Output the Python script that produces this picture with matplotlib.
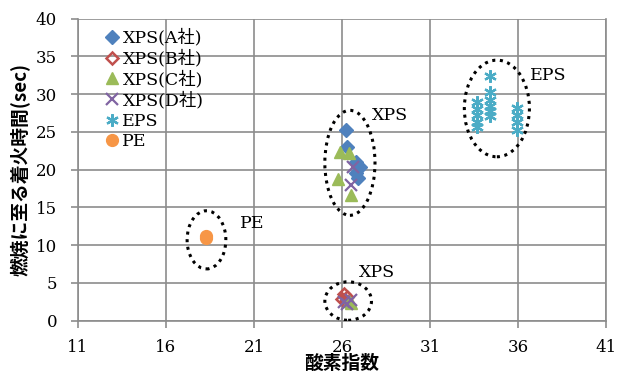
import matplotlib
matplotlib.use("Agg")
import matplotlib.pyplot as plt
from matplotlib.patches import Ellipse

# -----------------------------
# データ (酸素指数, 着火時間 sec)
# -----------------------------
xps_a_x = [26.2, 26.3, 26.8, 27.0, 26.8, 26.9]
xps_a_y = [25.3, 23.0, 21.0, 20.4, 19.6, 18.9]

xps_b_x = [26.1, 26.0, 26.2, 26.3]
xps_b_y = [3.5, 2.9, 2.6, 3.1]

xps_c_x = [25.9, 26.4, 25.8, 26.5, 26.5, 26.4]
xps_c_y = [22.4, 22.2, 18.8, 16.6, 2.3, 2.6]

xps_d_x = [26.6, 26.5, 26.1, 26.3, 26.5]
xps_d_y = [20.4, 17.9, 2.5, 2.2, 2.8]

eps_x = [33.65, 33.65, 33.65, 33.65, 33.65, 34.4, 34.4, 34.4, 34.4, 34.4, 34.4,
         35.95, 35.95, 35.95, 35.95]
eps_y = [29.0, 28.0, 27.2, 26.3, 25.7, 32.4, 30.3, 29.2, 28.4, 27.7, 27.1,
         28.2, 27.2, 26.3, 25.2]

pe_x = [18.3, 18.3]
pe_y = [10.9, 11.2]

series = [
    ("XPS(A社)", xps_a_x, xps_a_y),
    ("XPS(B社)", xps_b_x, xps_b_y),
    ("XPS(C社)", xps_c_x, xps_c_y),
    ("XPS(D社)", xps_d_x, xps_d_y),
    ("EPS", eps_x, eps_y),
    ("PE", pe_x, pe_y),
]

# 囲み (中心x, 中心y, 幅, 高さ) とラベル
groups = [
    ((18.3, 10.7), 2.2, 7.7),
    ((26.45, 20.9), 2.85, 13.9),
    ((34.8, 28.1), 3.7, 12.8),
    ((26.35, 2.6), 2.65, 5.1),
]
group_labels = [("PE", 20.9, 12.9), ("XPS", 28.7, 27.2), ("EPS", 37.7, 32.5), ("XPS", 28.0, 6.4)]

serif = ["DejaVu Serif", "Noto Sans CJK JP"]
jp = ["Noto Sans CJK JP", "DejaVu Sans"]

styles = {
    "XPS(A社)": dict(marker="D", color="#4F81BD", markersize=7),
    "XPS(B社)": dict(marker="D", markerfacecolor="none", markeredgecolor="#C0504D",
                    markeredgewidth=1.8, markersize=6.5),
    "XPS(C社)": dict(marker="^", color="#9BBB59", markersize=8.5),
    "XPS(D社)": dict(marker="x", color="#8064A2", markeredgewidth=1.6, markersize=8),
    "EPS": dict(marker=(6, 2, 0), color="#4BACC6", markeredgewidth=1.6, markersize=9),
    "PE": dict(marker="o", color="#F79646", markersize=8.5),
}

fig = plt.figure(figsize=(6.19, 3.72), dpi=100)
ax = fig.add_axes([0.126, 0.138, 0.853, 0.812])

for name, xs, ys in series:
    ax.plot(xs, ys, linestyle="none", label=name, zorder=3, **styles[name])

for (cx, cy), w, h in groups:
    ax.add_patch(Ellipse((cx, cy), w, h, fill=False, edgecolor="black",
                         linestyle=(0, (1, 1.5)), linewidth=2.2, zorder=4))

for txt, tx, ty in group_labels:
    ax.text(tx, ty, txt, fontsize=12.5, family=serif, ha="center", va="center")

ax.set_xlim(11, 41)
ax.set_ylim(0, 40)
ax.set_xticks(range(11, 42, 5))
ax.set_yticks(range(0, 41, 5))
ax.grid(True, color="#8c8c8c", linewidth=1.2)
ax.set_axisbelow(True)
for s in ax.spines.values():
    s.set_color("#8c8c8c")
    s.set_linewidth(1.2)
ax.spines["top"].set_visible(False)
ax.tick_params(colors="#8c8c8c", length=5, width=1.2, labelcolor="black", labelsize=12)
ax.tick_params(axis="x", pad=8)
ax.tick_params(axis="y", pad=10)
for lab in ax.get_xticklabels() + ax.get_yticklabels():
    lab.set_family(serif)

ax.set_xlabel("酸素指数", family=jp, fontweight="bold", fontsize=13.5, labelpad=-1)
ax.set_ylabel("燃焼に至る着火時間(sec)", family=jp, fontweight="bold", fontsize=13.5, labelpad=4)

leg = ax.legend(loc="upper left", bbox_to_anchor=(0.025, 1.0), frameon=False,
                prop={"family": serif, "size": 12.5}, handletextpad=0.0,
                labelspacing=0.18, handlelength=1.2, borderaxespad=0.2)

fig.savefig("out.png", dpi=100)
